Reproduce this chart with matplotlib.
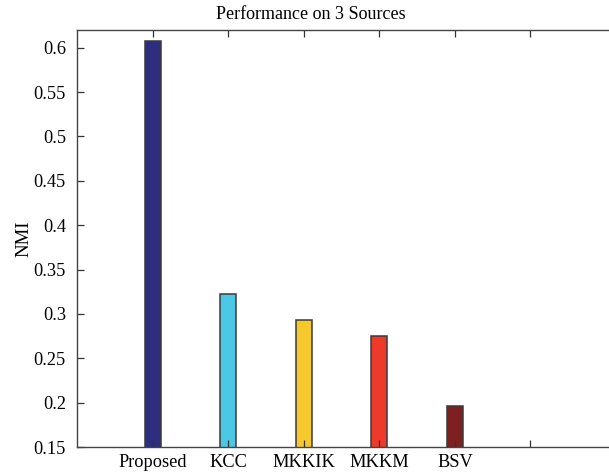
import matplotlib.pyplot as plt

methods = ['Proposed', 'KCC', 'MKKIK', 'MKKM', 'BSV']
nmi = [0.608, 0.322, 0.293, 0.275, 0.1965]
colors = ['#2e2e80', '#4dc8e4', '#f5c92e', '#ee3a2a', '#7e1f20']

plt.rcParams['font.family'] = ['Liberation Serif', 'DejaVu Serif']
plt.rcParams['font.size'] = 13.2

fig = plt.figure(figsize=(6.09, 4.75), dpi=100)
ax = fig.add_axes([77 / 609, 28 / 475, 1 - 77 / 609, 417 / 475])

pos = range(1, len(methods) + 1)
ax.bar(pos, nmi, width=0.21, color=colors, edgecolor='#3a3a3a', linewidth=1.1)

ax.set_xlim(0, 7.04)
ax.set_ylim(0.15, 0.62)
ax.set_xticks(list(pos) + [6])
ax.set_xticklabels(methods + [''])
ax.set_yticks([0.15, 0.2, 0.25, 0.3, 0.35, 0.4, 0.45, 0.5, 0.55, 0.6])
ax.set_yticklabels(['0.15', '0.2', '0.25', '0.3', '0.35', '0.4', '0.45', '0.5', '0.55', '0.6'])
ax.tick_params(direction='in', top=True, right=False, length=5, width=0.9, color='#333333')
ax.tick_params(axis='y', pad=8)
ax.tick_params(axis='x', pad=5)
for s in ['left', 'bottom', 'top']:
    ax.spines[s].set_color('#444444')
    ax.spines[s].set_linewidth(1.0)
ax.spines['right'].set_visible(False)

ax.set_ylabel('NMI', fontsize=13.5)
ax.yaxis.set_label_coords(-45 / 532, 0.5)
fig.text(311 / 609, 1 - 19 / 475, 'Performance on 3 Sources', fontsize=13,
         ha='center', va='baseline')

fig.savefig('out.png', dpi=100)
